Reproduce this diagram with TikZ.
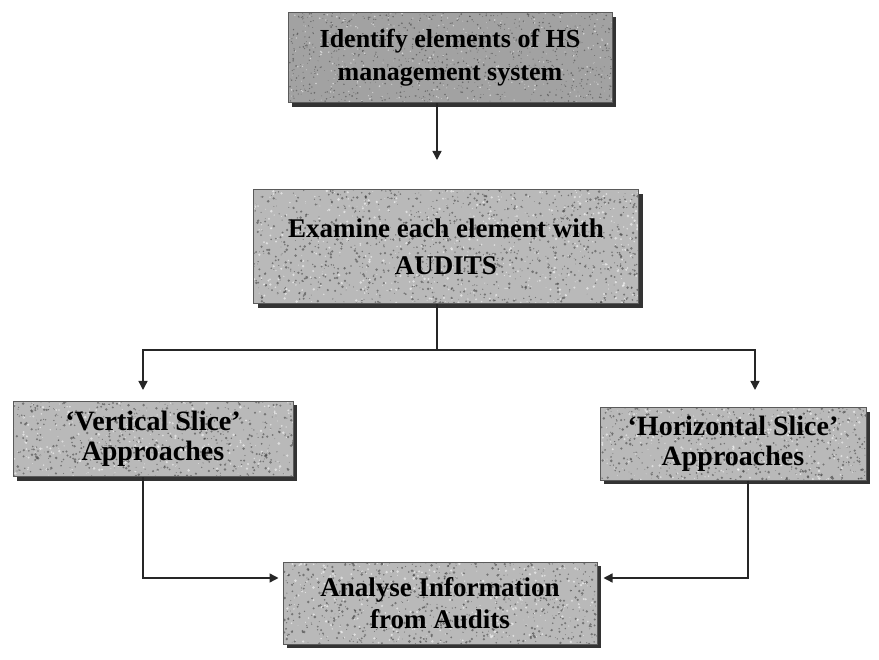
\documentclass[tikz,border=0pt]{standalone}
\usepackage{fontspec}
\setmainfont{Liberation Serif}
\usetikzlibrary{arrows.meta,shadows,calc}
\definecolor{boxfill}{HTML}{B9B9B9}
\definecolor{topfill}{HTML}{A2A2A2}
\definecolor{edge}{HTML}{5A5A5A}
\definecolor{fleck}{HTML}{3C3C3C}

% stippled grain scattered over the interior of a box (used as path picture)
\newcommand\grainfill[2]{% #1 = number of flecks, #2 = largest fleck radius
  \path (path picture bounding box.north west) coordinate (gA)
        (path picture bounding box.south east) coordinate (gB);
  \foreach \k in {1,...,#1}{%
    \pgfmathsetmacro\gu{rnd}%
    \pgfmathsetmacro\gv{rnd}%
    \pgfmathsetmacro\gs{0.35+#2*rnd}%
    \pgfmathsetmacro\gc{rnd>0.3 ? "fleck" : "white"}%
    \fill[\gc, opacity=0.55] let \p1=(gA), \p2=(gB) in
      (\x1+\gu*\x2-\gu*\x1, \y1+\gv*\y2-\gv*\y1) circle[radius=\gs pt];
  }%
}

\begin{document}
\begin{tikzpicture}[x=1pt,y=-1pt,
  box/.style={draw=edge, line width=1pt, fill=boxfill, align=center,
    inner sep=0pt, text=black,
    drop shadow={shadow xshift=4pt, shadow yshift=-4pt, fill=black!80, opacity=1}},
  conn/.style={line width=1.4pt, draw=black!85},
  arr/.style={conn, -{Triangle[length=9pt,width=9pt]}}]
\pgfmathsetseed{4242}
\useasboundingbox (0,0) rectangle (879,660);

% process boxes
\node[box, fill=topfill, minimum width=324pt, minimum height=90pt,
      path picture={\grainfill{1200}{0.6}},
      font=\fontsize{26}{33}\selectfont\bfseries] (ident) at (450,58)
  {Identify elements of HS\\management system};
\node[box, minimum width=385pt, minimum height=114pt,
      path picture={\grainfill{1700}{1.1}},
      font=\fontsize{27}{37}\selectfont\bfseries] (exam) at (446,247)
  {Examine each element with\\AUDITS};
\node[box, minimum width=280pt, minimum height=75pt,
      path picture={\grainfill{850}{1.1}},
      font=\fontsize{28}{30}\selectfont\bfseries] (vert) at (153,439)
  {‘Vertical Slice’\\Approaches};
\node[box, minimum width=266pt, minimum height=72pt,
      path picture={\grainfill{800}{1.1}},
      font=\fontsize{28}{30}\selectfont\bfseries] (horiz) at (733,444)
  {‘Horizontal Slice’\\Approaches};
\node[box, minimum width=314pt, minimum height=82pt,
      path picture={\grainfill{1050}{1.1}},
      font=\fontsize{27}{32}\selectfont\bfseries] (anal) at (440,603)
  {Analyse Information\\from Audits};

% junction points of the connectors
\coordinate (t1) at (437,160);
\coordinate (split) at (437,350);
\coordinate (tL) at (143,390);
\coordinate (tR) at (755,390);
\coordinate (mL) at (143,578);
\coordinate (mR) at (748,578);

% connectors
\draw[arr] (t1 |- ident.south) -- (t1);
\draw[conn] (split |- exam.south) -- (split);
\draw[arr] (split) -| (tL);
\draw[arr] (split) -| (tR);
\draw[arr, shorten >=4pt] (mL |- vert.south) -- (mL) -- (anal.west |- mL);
\draw[arr, shorten >=6pt] (mR |- horiz.south) -- (mR) -- (anal.east |- mR);
\end{tikzpicture}
\end{document}
